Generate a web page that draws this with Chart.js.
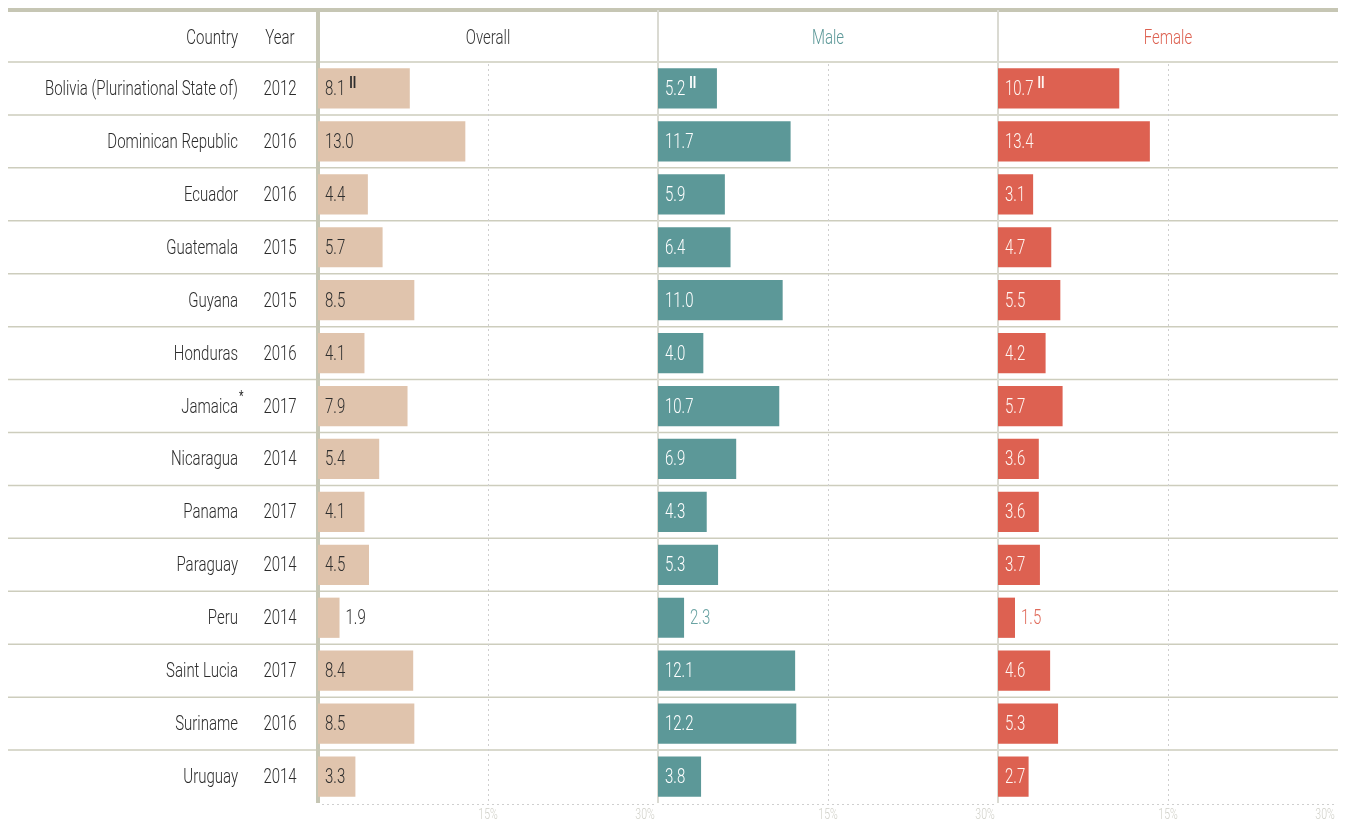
<!DOCTYPE html>
<html><head><meta charset="utf-8">
<script src="https://cdn.jsdelivr.net/npm/chart.js@4.4.1/dist/chart.umd.min.js"></script>
<style>html,body{margin:0;padding:0;background:#fff;overflow:hidden}#wrap{width:1347px;height:823px;position:relative}</style>
</head><body><div id="wrap"><canvas id="c" width="1347" height="823"></canvas></div>
<script>
const countries = ['Bolivia (Plurinational State of)','Dominican Republic','Ecuador','Guatemala','Guyana','Honduras','Jamaica','Nicaragua','Panama','Paraguay','Peru','Saint Lucia','Suriname','Uruguay'];
const countryMarks = ['','','','','','','*','','','','','','',''];
const years = ['2012','2016','2016','2015','2015','2016','2017','2014','2017','2014','2014','2017','2016','2014'];
const overall = [8.1,13.0,4.4,5.7,8.5,4.1,7.9,5.4,4.1,4.5,1.9,8.4,8.5,3.3];
const male = [5.2,11.7,5.9,6.4,11.0,4.0,10.7,6.9,4.3,5.3,2.3,12.1,12.2,3.8];
const female = [10.7,13.4,3.1,4.7,5.5,4.2,5.7,3.6,3.6,3.7,1.5,4.6,5.3,2.7];
const valueMarks = ['II','','','','','','','','','','','','',''];
const panelTitles = ['Overall','Male','Female'];
const tickValues = [15,30];
const headerCols = ['Country','Year'];

const FAM = 'Roboto, "Liberation Sans", sans-serif';
const barColors = ['#e0c4ad','#5c9898','#dd6151'];
const insideText = ['#2e2e2e','#ffffff','#fff6f2'];
const outsideText = ['#2e2e2e','#6aa3a3','#e06a5a'];
const titleColors = ['#333333','#5c9898','#dd6151'];
const TEXT = '#2b2b2b';
let SX = 0.8;
const DY = 1.5;

function txt(ctx, s, x, y, align, font, color){
  ctx.save();
  ctx.font = font; ctx.fillStyle = color; ctx.textBaseline = 'middle'; ctx.textAlign = 'left';
  const w = ctx.measureText(s).width * SX;
  let x0 = x;
  if (align === 'right') x0 = x - w; else if (align === 'center') x0 = x - w/2;
  ctx.translate(x0, y + DY); ctx.scale(SX, 1);
  ctx.fillText(s, 0, 0);
  ctx.restore();
  return w;
}
function tw(ctx, s, font){ ctx.save(); ctx.font = font; const w = ctx.measureText(s).width*SX; ctx.restore(); return w; }

const TF = '300 20px ' + FAM;

const tablePlugin = {
  id: 'table',
  beforeDatasetsDraw(chart){
    const {ctx, chartArea: ca, scales} = chart;
    const y = scales.y;
    const xs = [scales.x1, scales.x2, scales.x3];
    ctx.save();
    ctx.font = TF;
    SX = 193 / ctx.measureText(countries[0]).width;
    const L = 8, R = xs[2].getPixelForValue(30);
    ctx.fillStyle = '#c6c6b4';
    ctx.fillRect(L, 8, R - L, 4);
    ctx.strokeStyle = '#cdcdbd'; ctx.lineWidth = 1.5;
    const n = countries.length;
    for (let i = 0; i < n; i++) {
      const yy = i === 0 ? ca.top : (y.getPixelForValue(i-1) + y.getPixelForValue(i)) / 2;
      ctx.beginPath(); ctx.moveTo(L, yy); ctx.lineTo(R, yy); ctx.stroke();
    }
    ctx.strokeStyle = '#cfcfcf'; ctx.lineWidth = 1; ctx.setLineDash([2,3]);
    xs.forEach(s => {
      const xx = Math.round(s.getPixelForValue(15)) + 0.5;
      ctx.beginPath(); ctx.moveTo(xx, ca.top + 2); ctx.lineTo(xx, ca.bottom); ctx.stroke();
      ctx.beginPath(); ctx.moveTo(s.getPixelForValue(0) + 4, ca.bottom + 1.5); ctx.lineTo(s.getPixelForValue(30) - 3, ca.bottom + 1.5); ctx.stroke();
    });
    ctx.setLineDash([]);
    ctx.fillStyle = '#dadad2';
    ctx.fillRect(xs[1].getPixelForValue(0) - 1, 10, 2, ca.bottom - 10);
    ctx.fillRect(xs[2].getPixelForValue(0) - 1, 10, 2, ca.bottom - 10);
    ctx.fillStyle = '#c6c6b4';
    ctx.fillRect(xs[0].getPixelForValue(0) - 2, 10, 4, ca.bottom - 10);
    const hy = (12 + ca.top) / 2;
    txt(ctx, headerCols[0], 238, hy, 'right', TF, TEXT);
    txt(ctx, headerCols[1], 280, hy, 'center', TF, TEXT);
    xs.forEach((s, k) => txt(ctx, panelTitles[k], s.getPixelForValue(15), hy, 'center', TF, titleColors[k]));
    countries.forEach((c, i) => {
      const yy = y.getPixelForValue(i);
      txt(ctx, c, 238, yy, 'right', TF, TEXT);
      if (countryMarks[i]) {
        txt(ctx, countryMarks[i], 238 + 1, yy - 10, 'left', '14px ' + FAM, TEXT);
      }
      txt(ctx, years[i], 280, yy, 'center', TF, TEXT);
    });
    const tf = '300 14px ' + FAM;
    xs.forEach(s => {
      tickValues.forEach(v => {
        const px = s.getPixelForValue(v) - (v === 30 ? 13 : 0);
        txt(ctx, v + '%', px, ca.bottom + 11, 'center', tf, '#d0d0c8');
      });
    });
    ctx.restore();
  },
  afterDatasetsDraw(chart){
    const {ctx, scales} = chart;
    const y = scales.y;
    const xs = [scales.x1, scales.x2, scales.x3];
    chart.data.datasets.forEach((ds, k) => {
      const s = xs[k];
      const x0 = s.getPixelForValue(0);
      ds.data.forEach((v, i) => {
        const yy = y.getPixelForValue(i);
        const label = v.toFixed(1);
        const w = tw(ctx, label, TF);
        const xe = s.getPixelForValue(v);
        let lx, col;
        if (xe - x0 < 29) { lx = xe + 6; col = outsideText[k]; }
        else { lx = x0 + 7; col = insideText[k]; }
        txt(ctx, label, lx, yy, 'left', TF, col);
        if (valueMarks[i]) {
          txt(ctx, valueMarks[i], lx + w + 4, yy - 6, 'left', 'bold 16px ' + FAM, col);
        }
      });
    });
  }
};

const mkX = () => ({type:'linear', position:'bottom', stack:'panels', stackWeight:1, min:0, max:30,
  grid:{display:false, drawTicks:false}, border:{display:false}, ticks:{display:false}});

new Chart(document.getElementById('c'), {
  type: 'bar',
  data: {
    labels: countries,
    datasets: [
      {label: panelTitles[0], data: overall, xAxisID: 'x1', backgroundColor: barColors[0], grouped: false, barPercentage: 0.76, categoryPercentage: 1},
      {label: panelTitles[1], data: male, xAxisID: 'x2', backgroundColor: barColors[1], grouped: false, barPercentage: 0.76, categoryPercentage: 1},
      {label: panelTitles[2], data: female, xAxisID: 'x3', backgroundColor: barColors[2], grouped: false, barPercentage: 0.76, categoryPercentage: 1}
    ]
  },
  options: {
    indexAxis: 'y', responsive: false, animation: false,
    layout: {padding: {left: 318, right: 9, top: 62, bottom: 20}},
    plugins: {legend: {display: false}, tooltip: {enabled: false}},
    scales: {
      y: {display: false, offset: true},
      x1: mkX(), x2: mkX(), x3: mkX()
    }
  },
  plugins: [tablePlugin]
});
</script></body></html>
